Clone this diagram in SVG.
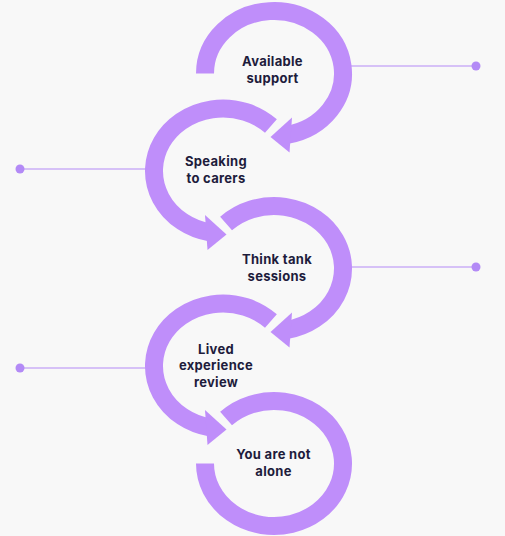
<svg xmlns="http://www.w3.org/2000/svg" width="505" height="536" viewBox="0 0 505 536">
<style>
.ring{fill:none;stroke:#BF8EFA;stroke-width:18;stroke-linecap:butt}
.head{fill:#BF8EFA}
.conn{stroke:#B38AF6;stroke-width:1.2;fill:none}
.dot{fill:#B38AF6}
.lbl{font-family:Inter,"Noto Sans","DejaVu Sans",sans-serif;font-weight:700;font-size:13px;letter-spacing:0.3px;fill:#1E1C3C;text-anchor:middle}
</style>
<rect width="505" height="536" fill="#F8F8F8"/>
<g id="connectors">
<line class="conn" x1="342" y1="66" x2="476" y2="66"/>
<circle class="dot" cx="476" cy="66" r="4.5"/>
<line class="conn" x1="20" y1="169" x2="154" y2="169"/>
<circle class="dot" cx="20" cy="169" r="4.5"/>
<line class="conn" x1="342" y1="267" x2="476" y2="267"/>
<circle class="dot" cx="476" cy="267" r="4.5"/>
<line class="conn" x1="20" y1="368" x2="154" y2="368"/>
<circle class="dot" cx="20" cy="368" r="4.5"/>
</g>
<g id="node-available-support">
<path class="ring" d="M205,73.5 A69,62.5 0 1 1 287.17,134.85"/>
<polygon class="head" points="292,117.5 270.5,137 289.5,152.5"/>
<text class="lbl" x="272.5" y="66">Available</text>
<text class="lbl" x="272.5" y="82.5">support</text>
</g>
<g id="node-speaking-to-carers">
<path class="ring" d="M270.93,126.04 A69,62.5 0 1 0 209.83,232.35"/>
<polygon class="head" points="205,215 226.5,234.5 207.5,250"/>
<text class="lbl" x="216" y="166">Speaking</text>
<text class="lbl" x="216" y="183">to carers</text>
</g>
<g id="node-think-tank-sessions">
<path class="ring" d="M226.07,223.54 A69,62.5 0 1 1 287.17,329.85"/>
<polygon class="head" points="292,312.5 270.5,332 289.5,347.5"/>
<text class="lbl" x="277" y="264">Think tank</text>
<text class="lbl" x="277" y="281">sessions</text>
</g>
<g id="node-lived-experience-review">
<path class="ring" d="M270.93,321.04 A69,62.5 0 1 0 209.83,427.35"/>
<polygon class="head" points="205,410 226.5,429.5 207.5,445"/>
<text class="lbl" x="216" y="353.5">Lived</text>
<text class="lbl" x="216" y="370">experience</text>
<text class="lbl" x="216" y="387">review</text>
</g>
<g id="node-you-are-not-alone">
<path class="ring" d="M226.07,418.54 A69,62.5 0 1 1 205,463.5"/>
<text class="lbl" x="273.5" y="459">You are not</text>
<text class="lbl" x="273.5" y="476">alone</text>
</g>
</svg>
